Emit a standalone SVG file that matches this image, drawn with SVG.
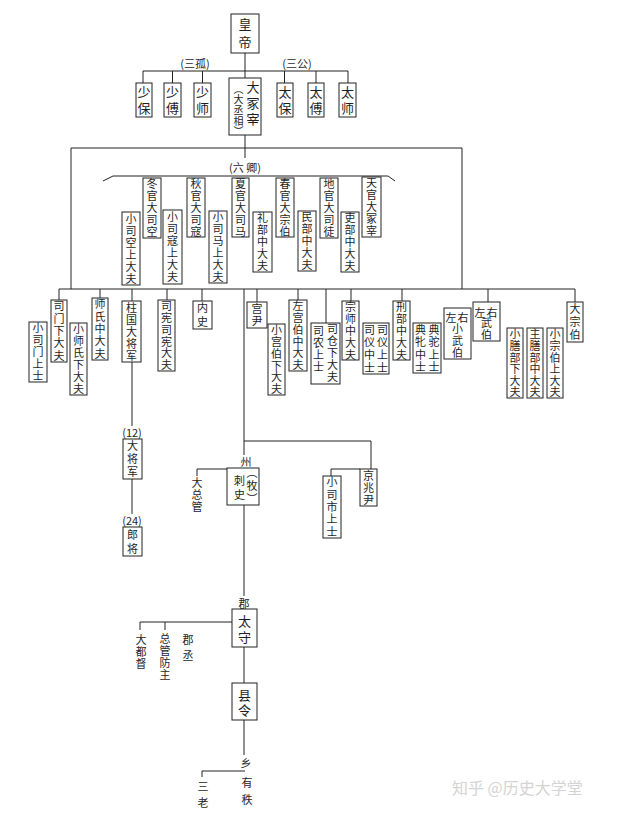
<svg xmlns="http://www.w3.org/2000/svg" width="621" height="816" viewBox="0 0 621 816">
<style>
.b{fill:#fff;stroke:#222;stroke-width:1}
.t{font-family:"Noto Sans CJK SC","Noto Sans CJK JP",sans-serif;font-size:11px;fill:#1e1e1e;text-anchor:middle;dominant-baseline:central}
.v{font-family:"Noto Sans CJK SC","Noto Sans CJK JP",sans-serif;font-size:11px;fill:#1e1e1e;text-anchor:middle;writing-mode:vertical-rl;letter-spacing:1px}
.L{font-size:13px;letter-spacing:3px}
.c path{fill:none;stroke:#222;stroke-width:1}
.wm{font-family:"Noto Sans CJK SC",sans-serif;font-size:16px;fill:#d4d4d4;dominant-baseline:central}
</style>
<rect width="621" height="816" fill="#fff"/>
<g class="c" id="connectors">
<path d="M245,53V78M245,135V158"/>
<path d="M143,71H348M143,71V83M172.5,71V83M202.5,71V83M284.5,71V83M316,71V83M348,71V83"/>
<path d="M71,289V148H462V289"/>
<path d="M103,181L113,176H388L395,181"/>
<path d="M59,289H575M59,289V300M100,289V298M132,289V301M167,289V300M202,289V301M257,289V302M298,289V300M326,289V323M351,289V301M402,289V301M488,289V302M575,289V302"/>
<path d="M132,362V426M132,479V514"/>
<path d="M244,289V455M244,441H371V469M360,469H331V476M227,469H197V476"/>
<path d="M244,505V596M232,622H140V630M165,622V630M244,647V683M244,720V755M245,771H202V777"/>
</g>
<g id="n_huangdi"><rect class="b" x="231" y="14" width="28" height="39"/><text class="v L" x="245" y="36" style="letter-spacing:5px">皇帝</text></g>
<g id="l_sangu"><text class="t" x="195" y="63">(三孤)</text></g>
<g id="l_sangong"><text class="t" x="297" y="63">(三公)</text></g>
<g id="n_shaobao"><rect class="b" x="136" y="83" width="16" height="34"/><text class="v L" x="144" y="101.5">少保</text></g>
<g id="n_shaofu"><rect class="b" x="164" y="83" width="17" height="34"/><text class="v L" x="172.5" y="101.5">少傅</text></g>
<g id="n_shaoshi"><rect class="b" x="194" y="83" width="17" height="34"/><text class="v L" x="202.5" y="101.5">少师</text></g>
<g id="n_taibao"><rect class="b" x="277" y="83" width="16" height="34"/><text class="v L" x="285" y="101.5">太保</text></g>
<g id="n_taifu"><rect class="b" x="308" y="83" width="16" height="34"/><text class="v L" x="316" y="101.5">太傅</text></g>
<g id="n_taishi"><rect class="b" x="339" y="83" width="17" height="34"/><text class="v L" x="347.5" y="101.5">太师</text></g>
<g id="n_dazhongzai"><rect class="b" x="229" y="78" width="32" height="57"/><text class="v L" x="253" y="104.5">大冢宰</text><text class="v" x="238.5" y="110.5" style="font-size:10px;letter-spacing:0.6px">（大丞相）</text></g>
<g id="l_liuqing"><text class="t" x="245" y="167">(六 卿)</text></g>
<g id="n_dongguan"><rect class="b" x="143" y="178" width="18" height="60"/><text class="v" x="152" y="208.5">冬官大司空</text></g>
<g id="n_xiaosikong"><rect class="b" x="122" y="212" width="18" height="73"/><text class="v" x="131" y="249">小司空上大夫</text></g>
<g id="n_xiaosikou"><rect class="b" x="163" y="210" width="19" height="74"/><text class="v" x="172.5" y="247.5">小司寇上大夫</text></g>
<g id="n_qiuguan"><rect class="b" x="187" y="178" width="18" height="59"/><text class="v" x="196" y="208">秋官大司寇</text></g>
<g id="n_xiaosima"><rect class="b" x="209" y="211" width="18" height="72"/><text class="v" x="218" y="247.5">小司马上大夫</text></g>
<g id="n_xiaguan"><rect class="b" x="232" y="178" width="17" height="59"/><text class="v" x="240.5" y="208">夏官大司马</text></g>
<g id="n_libu"><rect class="b" x="253" y="212" width="19" height="60"/><text class="v" x="262.5" y="242.5">礼部中大夫</text></g>
<g id="n_chunguan"><rect class="b" x="276" y="178" width="18" height="59"/><text class="v" x="285" y="208">春官大宗伯</text></g>
<g id="n_minbu"><rect class="b" x="298" y="211" width="18" height="60"/><text class="v" x="307" y="241.5">民部中大夫</text></g>
<g id="n_diguan"><rect class="b" x="320" y="178" width="18" height="60"/><text class="v" x="329" y="208.5">地官大司徒</text></g>
<g id="n_libu2"><rect class="b" x="341" y="212" width="18" height="60"/><text class="v" x="350" y="242.5">吏部中大夫</text></g>
<g id="n_tianguan"><rect class="b" x="362" y="177" width="19" height="60"/><text class="v" x="371.5" y="207.5">天官大冢宰</text></g>
<g id="n_xiaosimen"><rect class="b" x="29" y="322" width="18" height="60"/><text class="v" x="38" y="352.5">小司门上士</text></g>
<g id="n_simen"><rect class="b" x="51" y="300" width="16" height="62"/><text class="v" x="59" y="331.5" style="letter-spacing:1.4px">司门下大夫</text></g>
<g id="n_xiaoshishi"><rect class="b" x="70" y="323" width="17" height="72"/><text class="v" x="78.5" y="359.5">小师氏下大夫</text></g>
<g id="n_shishi"><rect class="b" x="92" y="298" width="16" height="62"/><text class="v" x="100" y="329.5" style="letter-spacing:1.4px">师氏中大夫</text></g>
<g id="n_zhuguo"><rect class="b" x="122" y="301" width="19" height="61"/><text class="v" x="131.5" y="332">柱国大将军</text></g>
<g id="n_sixian"><rect class="b" x="158" y="300" width="17" height="71"/><text class="v" x="166.5" y="336" style="letter-spacing:0.8px">司宪司宪大夫</text></g>
<g id="n_neishi"><rect class="b" x="193" y="301" width="19" height="28"/><text class="v" x="202.5" y="316.5" style="letter-spacing:3px">内史</text></g>
<g id="n_gongyin"><rect class="b" x="247" y="302" width="20" height="26"/><text class="v" x="257" y="315.5">宫尹</text></g>
<g id="n_xiaogongbo"><rect class="b" x="268" y="324" width="17" height="71"/><text class="v" x="276.5" y="360" style="letter-spacing:0.8px">小宫伯下大夫</text></g>
<g id="n_zuogongbo"><rect class="b" x="289" y="300" width="18" height="71"/><text class="v" x="298" y="336" style="letter-spacing:0.8px">左宫伯中大夫</text></g>
<g id="n_sicang"><rect class="b" x="311" y="323" width="29" height="61"/><text class="v" x="332.5" y="353.5">司仓下大夫</text><text class="v" x="318.5" y="349.5">司农上士</text></g>
<g id="n_zongshi"><rect class="b" x="342" y="301" width="17" height="59"/><text class="v" x="350.5" y="331">宗师中大夫</text></g>
<g id="n_siyi"><rect class="b" x="363" y="323" width="26" height="51"/><text class="v" x="382.5" y="349.5" style="letter-spacing:1.7px">司仪上士</text><text class="v" x="369.5" y="349.5" style="letter-spacing:1.7px">司仪中士</text></g>
<g id="n_xingbu"><rect class="b" x="393" y="301" width="17" height="59"/><text class="v" x="401.5" y="331">刑部中大夫</text></g>
<g id="n_diantuo"><rect class="b" x="413" y="323" width="28" height="50"/><text class="v" x="434" y="349" style="letter-spacing:1.5px">典驼上士</text><text class="v" x="420.5" y="349" style="letter-spacing:1.5px">典牝中士</text></g>
<g id="n_zuoyouxiaowubo"><rect class="b" x="444" y="308" width="27" height="51"/><text class="t" x="457.5" y="317" style="letter-spacing:1px">左右</text><text class="v" x="457.5" y="341.5">小武伯</text></g>
<g id="n_zuoyouwubo"><rect class="b" x="473" y="302" width="27" height="39"/><text class="t" x="486.5" y="312" style="letter-spacing:1px">左右</text><text class="v" x="486.5" y="329" style="letter-spacing:0.5px">武伯</text></g>
<g id="n_xiaoshanbu"><rect class="b" x="507" y="328" width="16" height="70"/><text class="v" x="515" y="363.5" style="letter-spacing:0.6px">小膳部下大夫</text></g>
<g id="n_zhushanbu"><rect class="b" x="527" y="328" width="16" height="70"/><text class="v" x="535" y="363.5" style="letter-spacing:0.6px">主膳部中大夫</text></g>
<g id="n_xiaozongbo"><rect class="b" x="547" y="328" width="16" height="70"/><text class="v" x="555" y="363.5" style="letter-spacing:0.6px">小宗伯上大夫</text></g>
<g id="n_dazongbo"><rect class="b" x="567" y="302" width="16" height="40"/><text class="v" x="575" y="323" style="letter-spacing:2px">大宗伯</text></g>
<g id="l_12"><text class="t" x="132" y="432">(12)</text></g>
<g id="n_dajiangjun"><rect class="b" x="123" y="439" width="19" height="40"/><text class="v" x="132.5" y="460" style="letter-spacing:2px">大将军</text></g>
<g id="l_24"><text class="t" x="132" y="520">(24)</text></g>
<g id="n_langjiang"><rect class="b" x="123" y="527" width="19" height="29"/><text class="v" x="132.5" y="543" style="letter-spacing:3px">郎将</text></g>
<g id="n_jingzhaoyin"><rect class="b" x="360" y="469" width="17" height="37"/><text class="v" x="368.5" y="488">京兆尹</text></g>
<g id="n_xiaosishi"><rect class="b" x="323" y="476" width="18" height="62"/><text class="v" x="332" y="507.5" style="letter-spacing:1.4px">小司市上士</text></g>
<g id="l_zhou"><text class="t" x="246" y="461">州</text></g>
<g id="n_cishi"><rect class="b" x="227" y="468" width="32" height="37"/><text class="v" x="239.5" y="489" style="letter-spacing:3px">刺史</text><text class="v" x="252" y="487" style="letter-spacing:2px">（牧）</text></g>
<g id="n_dazongguan"><text class="v" x="197" y="495.5">大总管</text></g>
<g id="l_jun"><text class="t" x="244" y="603">郡</text></g>
<g id="n_taishou"><rect class="b" x="232" y="609" width="25" height="38"/><text class="v L" x="244.5" y="630.5">太守</text></g>
<g id="n_dadudu"><text class="v" x="141" y="652.5">大都督</text></g>
<g id="n_zongguanfangzhu"><text class="v" x="165" y="657.5">总管防主</text></g>
<g id="n_juncheng"><text class="v" x="188" y="650" style="letter-spacing:5px">郡丞</text></g>
<g id="n_xianling"><rect class="b" x="232" y="683" width="25" height="37"/><text class="v L" x="244.5" y="704" style="letter-spacing:2px">县令</text></g>
<g id="l_xiang"><text class="t" x="246" y="762">乡</text></g>
<g id="n_sanlao"><text class="v" x="203" y="797.5" style="letter-spacing:5px">三老</text></g>
<g id="n_youzhi"><text class="v" x="247" y="794" style="letter-spacing:6px">有秩</text></g>
<text class="wm" x="452" y="787">知乎 @历史大学堂</text>
</svg>
